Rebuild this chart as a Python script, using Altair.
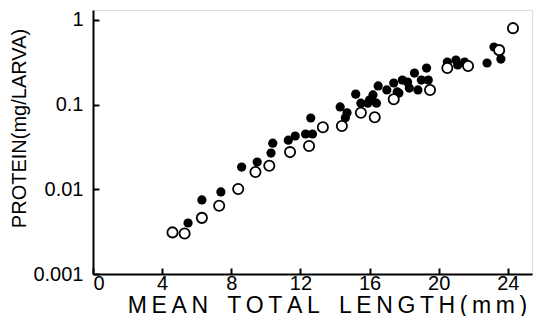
import altair as alt
import pandas as pd

# Open circles
open_x = [4.6, 5.3, 6.3, 7.3, 8.4, 9.4, 10.2, 11.4, 12.5, 13.3, 14.4, 15.5, 16.3, 17.4, 19.5, 20.5, 21.7, 23.5, 24.3]
open_y = [0.0031, 0.0030, 0.0046, 0.0064, 0.0101, 0.016, 0.019, 0.0275, 0.0325, 0.054, 0.056, 0.080, 0.071, 0.116, 0.149, 0.27, 0.286, 0.44, 0.80]

# Filled circles
fill_x = [5.5, 6.3, 7.4, 8.6, 9.5, 10.3, 10.4, 11.3, 11.7, 12.3, 12.7, 12.6, 14.3, 14.7, 14.6, 15.2, 15.5, 16.0,
          16.4, 16.5, 16.2, 17.0, 17.4, 17.6, 17.9, 18.3, 18.6, 19.3, 19.0, 19.4, 18.8, 20.5, 21.0, 21.1, 21.5,
          22.8, 23.2, 23.6, 18.2, 17.7, 15.9]
fill_y = [0.004, 0.0075, 0.0093, 0.0183, 0.021, 0.0268, 0.035, 0.038, 0.0426, 0.045, 0.045, 0.0695, 0.094, 0.080,
          0.070, 0.133, 0.104, 0.113, 0.104, 0.166, 0.130, 0.149, 0.180, 0.141, 0.195, 0.157, 0.236, 0.27, 0.195,
          0.195, 0.149, 0.318, 0.336, 0.294, 0.318, 0.31, 0.479, 0.345, 0.185, 0.137, 0.104]

x_ticks = [0, 2, 4, 6, 8, 10, 12, 14, 16, 18, 20, 22, 24]
y_ticks = [0.001, 0.01, 0.1, 1]

x_title = ("M\u2009E\u2009A\u2009N\u00a0\u00a0\u00a0T\u2009O\u2009T\u2009A\u2009L"
           "\u00a0\u00a0\u00a0L\u2009E\u2009N\u2009G\u2009T\u2009H\u2009(\u2009m\u2009m\u2009)")
y_title = "PROTEIN(mg/LARVA)"

W, H = 439, 264
FONT = "Liberation Sans"

df_open = pd.DataFrame({"x": open_x, "y": open_y})
df_fill = pd.DataFrame({"x": fill_x, "y": fill_y})

xscale = alt.Scale(domain=[0, 25.4], zero=False, nice=False)
yscale = alt.Scale(type="log", domain=[0.001, 1.31], nice=False)

x_axis = alt.Axis(
    values=x_ticks,
    labelExpr="datum.value % 4 == 0 ? datum.label : ''",
    ticks=True, tickSize={"expr": "-6"}, tickWidth=2, tickColor="black",
    grid=False, domainColor="black", domainWidth=2,
    labelFont=FONT, labelFontSize=20, labelColor="black", labelPadding=5,
    labelFlush=True,
    title=x_title, titleFont=FONT, titleFontSize=23, titleFontWeight="normal",
    titleColor="black", titleX=327 - 93, titleY=38, titleAlign="center", titleBaseline="alphabetic",
)
y_axis = alt.Axis(
    values=y_ticks,
    labelExpr="datum.value >= 1 ? '1' : datum.value >= 0.1 ? '0.1' : datum.value >= 0.01 ? '0.01' : '0.001'",
    ticks=True, tickSize={"expr": "-6"}, tickWidth=2, tickColor="black",
    grid=False, domainColor="black", domainWidth=2,
    labelFont=FONT, labelFontSize=20, labelColor="black", labelPadding=16,
    title=y_title, titleFont=FONT, titleFontSize=20, titleFontWeight="normal",
    titleColor="black", titleX=-64, titleY=118,
)

filled = alt.Chart(df_fill).mark_circle(size=85, color="black", opacity=1).encode(
    x=alt.X("x:Q", scale=xscale, axis=x_axis),
    y=alt.Y("y:Q", scale=yscale, axis=y_axis),
)
opened = alt.Chart(df_open).mark_point(shape="circle", size=105, color="black", fill="white",
                                       filled=False, strokeWidth=1.8, opacity=1).encode(
    x=alt.X("x:Q", scale=xscale), y=alt.Y("y:Q", scale=yscale)
)

chart = alt.layer(filled, opened).properties(
    width=W, height=H,
    autosize=alt.AutoSizeParams(type="none"),
    padding={"left": 85, "top": 2, "right": 5, "bottom": 42},
).configure_view(stroke=None).configure(background="white")

chart.save("out.html", embed_options={"renderer": "svg", "actions": False})
